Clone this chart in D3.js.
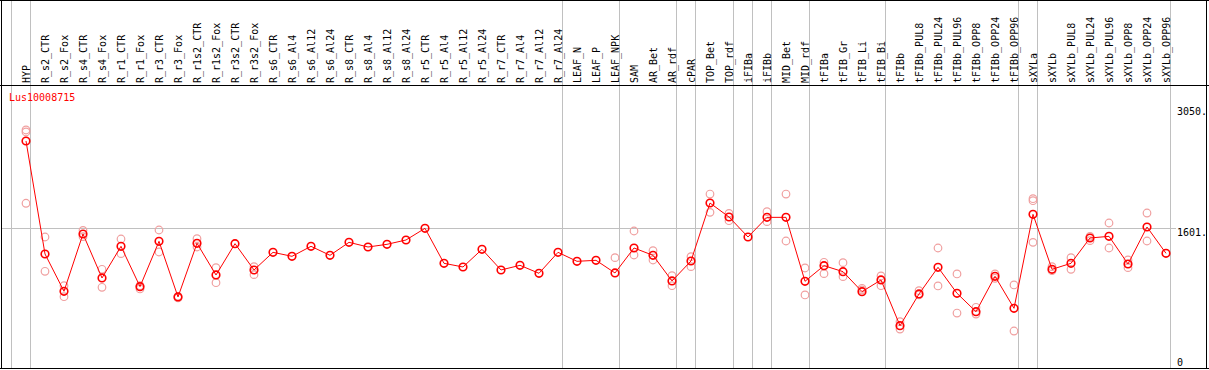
<!DOCTYPE html>
<html><head><meta charset="utf-8">
<script src="https://cdn.jsdelivr.net/npm/d3@7"></script>
<style>html,body{margin:0;padding:0;background:#fff;}svg{display:block;}</style>
</head><body>
<svg id="c" width="1209" height="370"></svg>
<script>
const categories = ["HYP","R_s2_CTR","R_s2_Fox","R_s4_CTR","R_s4_Fox","R_r1_CTR","R_r1_Fox","R_r3_CTR","R_r3_Fox","R_r1s2_CTR","R_r1s2_Fox","R_r3s2_CTR","R_r3s2_Fox","R_s6_CTR","R_s6_Al4","R_s6_Al12","R_s6_Al24","R_s8_CTR","R_s8_Al4","R_s8_Al12","R_s8_Al24","R_r5_CTR","R_r5_Al4","R_r5_Al12","R_r5_Al24","R_r7_CTR","R_r7_Al4","R_r7_Al12","R_r7_Al24","LEAF_N","LEAF_P","LEAF_NPK","SAM","AR_Bet","AR_rdf","cPAR","TOP_Bet","TOP_rdf","iFIBa","iFIBb","MID_Bet","MID_rdf","tFIBa","tFIB_Gr","tFIB_Li","tFIB_Bi","tFIBb","tFIBb_PUL8","tFIBb_PUL24","tFIBb_PUL96","tFIBb_OPP8","tFIBb_OPP24","tFIBb_OPP96","sXYLa","sXYLb","sXYLb_PUL8","sXYLb_PUL24","sXYLb_PUL96","sXYLb_OPP8","sXYLb_OPP24","sXYLb_OPP96"];
const meanValues = [2642,1285,837,1525,997,1377,893,1437,769,1413,1033,1409,1093,1305,1257,1377,1269,1425,1369,1401,1453,1593,1173,1129,1341,1093,1149,1053,1305,1197,1209,1057,1357,1269,961,1201,1897,1729,1489,1725,1725,957,1145,1073,833,973,424,805,1125,813,592,1017,633,1761,1101,1173,1477,1497,1165,1609,1293];
const repA = [2774,1489,904,1569,1101,1465,904,1573,777,1469,1121,null,1133,null,null,null,null,null,null,null,null,null,null,null,null,null,null,null,null,null,null,null,1561,1325,1025,1253,2005,1773,null,1793,2005,1117,1185,1181,873,1021,472,844,1357,1045,645,1045,913,1949,1133,1241,1445,1657,1213,1777,null];
const repB = [2750,1077,772,1493,885,1289,865,1309,757,1369,940,null,1037,null,null,null,null,null,null,null,null,null,null,null,null,null,null,null,null,null,null,null,1273,1213,904,1133,1785,1685,null,1673,1441,793,1049,1013,853,904,384,793,901,576,564,993,360,1925,1085,1101,1497,1357,1121,1441,null];
const repC = [1894,null,null,null,null,null,null,null,null,null,null,null,null,null,null,null,null,null,null,null,null,null,null,null,null,null,null,null,null,null,null,1241,null,null,null,null,null,null,null,null,null,null,null,null,null,null,null,null,null,null,null,null,null,1425,null,null,null,null,null,null,null];
const groupEnds = [-1,0,28,31,34,35,37,38,39,41,45,52,53,60];
const yTicks = [3050,1601,0];
const geneLabel = "Lus10008715";

const svg = d3.select("#c");
const x = d3.scaleLinear().domain([0, categories.length-1]).range([26, 1166]);
const y = d3.scaleLinear().domain([0, 3050]).range([361, 107]);
const font = "'DejaVu Sans Mono', monospace";

// separator lines
svg.selectAll("line.sep").data(groupEnds).enter().append("line")
  .attr("x1", d => Math.round(x(d)+4)+0.5).attr("x2", d => Math.round(x(d)+4)+0.5)
  .attr("y1", 0).attr("y2", 368).attr("stroke", "#c0c0c0").attr("stroke-width", 1);
// horizontal reference line
svg.append("line").attr("x1", 1).attr("x2", 1176)
  .attr("y1", Math.round(y(1601))+0.5).attr("y2", Math.round(y(1601))+0.5)
  .attr("stroke", "#c0c0c0").attr("stroke-width", 1);

// frame
svg.append("line").attr("x1",0).attr("x2",1209).attr("y1",0.5).attr("y2",0.5).attr("stroke","#000");
svg.append("line").attr("x1",0).attr("x2",1209).attr("y1",85.5).attr("y2",85.5).attr("stroke","#000");
svg.append("line").attr("x1",0).attr("x2",1209).attr("y1",368.5).attr("y2",368.5).attr("stroke","#000");
svg.append("line").attr("x1",1.5).attr("x2",1.5).attr("y1",0).attr("y2",369).attr("stroke","#000");
svg.append("line").attr("x1",1206.5).attr("x2",1206.5).attr("y1",0).attr("y2",369).attr("stroke","#000");

// category labels
svg.selectAll("text.cat").data(categories).enter().append("text")
  .attr("transform", (d,i) => `translate(${x(i)+4},83) rotate(-90)`)
  .attr("font-family", font).attr("font-size", 10).attr("fill", "#000")
  .text(d => d);

// y labels
svg.selectAll("text.yt").data(yTicks).enter().append("text")
  .attr("x", 1177).attr("y", d => d === 0 ? 366 : y(d)+8)
  .attr("font-family", font).attr("font-size", 10).attr("fill", "#000")
  .text(d => d === 0 ? "0" : d + ".");

svg.append("text").attr("x", 9).attr("y", 101)
  .attr("font-family", font).attr("font-size", 10).attr("fill", "#ff0000").text(geneLabel);

// replicates
const reps = [];
[repA, repB, repC].forEach(arr => arr.forEach((v,i) => { if (v !== null) reps.push({i, v}); }));
svg.selectAll("circle.rep").data(reps).enter().append("circle")
  .attr("cx", d => x(d.i)).attr("cy", d => y(d.v)).attr("r", 3.8)
  .attr("fill", "none").attr("stroke", "#f0a0a0").attr("stroke-width", 1.2);

// line
const line = d3.line().x((d,i) => x(i)).y(d => y(d));
svg.append("path").datum(meanValues).attr("d", line)
  .attr("fill", "none").attr("stroke", "#ff0000").attr("stroke-width", 1);
svg.selectAll("circle.m").data(meanValues).enter().append("circle")
  .attr("cx", (d,i) => x(i)).attr("cy", d => y(d)).attr("r", 3.8)
  .attr("fill", "none").attr("stroke", "#ff0000").attr("stroke-width", 1.6);
</script>
</body></html>
